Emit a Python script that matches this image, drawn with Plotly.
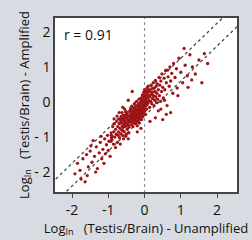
import plotly.graph_objects as go

# Scatter data
pts_lower = [(-1.92,-2.05),(-1.78,-1.95),(-1.64,-2.28),(-1.70,-1.62),(-1.55,-1.85),(-1.50,-1.40),(-1.45,-1.72),(-1.38,-1.55),
    (-1.33,-1.28),(-1.30,-1.90),(-1.25,-1.45),(-1.22,-1.15),(-1.18,-1.62),(-1.15,-1.35),(-1.10,-1.05),(-1.08,-1.48),
    (-1.05,-1.22),(-1.02,-0.95),(-1.00,-1.38),(-0.98,-1.12),(-1.85,-1.75),(-1.60,-1.50),(-1.42,-1.10),(-1.12,-1.75),
    (-1.35,-2.00),(-1.58,-2.10),(-1.20,-0.98),(-1.48,-1.25),(-0.95,-1.55),(-1.75,-2.20),
    (-0.92,-0.88),(-0.92,-0.95),(-0.91,-1.02),(-0.90,-1.08),(-0.93,-1.12),(-0.89,-0.98)]
pts_mid = [(-0.88,-0.70),(-0.86,-1.20),(-0.85,-0.85),(-0.83,-0.62),(-0.82,-1.00),(-0.80,-0.78),(-0.78,-0.92),(-0.77,-0.55),
    (-0.75,-1.15),(-0.74,-0.70),(-0.72,-0.85),(-0.71,-0.48),(-0.70,-0.62),(-0.69,-1.02),(-0.68,-0.75),(-0.66,-0.90),
    (-0.65,-0.42),(-0.64,-0.58),(-0.63,-0.80),(-0.62,-0.68),(-0.61,-0.95),(-0.60,-0.50),(-0.59,-0.72),(-0.58,-0.38),
    (-0.57,-0.62),(-0.56,-0.85),(-0.55,-0.55),(-0.54,-0.45),(-0.53,-0.70),(-0.52,-0.98),(-0.51,-0.35),(-0.50,-0.60),
    (-0.49,-0.48),(-0.48,-0.78),(-0.47,-0.30),(-0.46,-0.52),(-0.45,-0.66),(-0.44,-0.40),(-0.43,-0.88),(-0.42,-0.58),
    (-0.41,-0.25),(-0.40,-0.45),(-0.76,-0.40),(-0.67,-1.20),(-0.58,-1.05),(-0.50,-0.92),(-0.84,-0.48),(-0.62,-0.30),
    (-0.55,-0.20),(-0.45,-1.05),(-0.70,-0.30),(-0.80,-1.30),(-0.53,-0.40),(-0.60,-0.82),(-0.48,-0.65),(-0.66,-0.52),
    (-0.73,-0.95),(-0.57,-0.48),(-0.44,-0.55),(-0.52,-0.28),(-0.34,0.30),(-0.45,0.05),(-0.60,-0.15),
    (-0.63,-0.45),(-0.56,-0.66),(-0.49,-0.38),(-0.43,-0.72),(-0.41,-0.50),(-0.47,-0.42),(-0.68,-0.60),(-0.54,-0.58)]
pts_core = [(-0.39,-0.35),(-0.38,-0.55),(-0.38,-0.20),(-0.37,-0.42),(-0.36,-0.65),(-0.36,-0.30),(-0.35,-0.48),(-0.35,-0.12),
    (-0.34,-0.38),(-0.34,-0.58),(-0.33,-0.25),(-0.33,-0.45),(-0.32,-0.70),(-0.32,-0.32),(-0.31,-0.15),(-0.31,-0.50),
    (-0.30,-0.40),(-0.30,-0.22),(-0.29,-0.60),(-0.29,-0.35),(-0.28,-0.05),(-0.28,-0.45),(-0.27,-0.28),(-0.27,-0.52),
    (-0.26,-0.18),(-0.26,-0.38),(-0.25,-0.62),(-0.25,-0.30),(-0.24,-0.10),(-0.24,-0.45),(-0.23,-0.25),(-0.23,-0.55),
    (-0.22,-0.35),(-0.22,0.02),(-0.21,-0.20),(-0.21,-0.42),(-0.20,-0.30),(-0.20,-0.68),(-0.19,-0.12),(-0.19,-0.48),
    (-0.18,-0.25),(-0.18,-0.38),(-0.17,-0.05),(-0.17,-0.55),(-0.16,-0.32),(-0.16,-0.18),(-0.15,-0.42),(-0.15,0.08),
    (-0.14,-0.28),(-0.14,-0.60),(-0.13,-0.10),(-0.13,-0.35),(-0.12,-0.22),(-0.12,-0.48),(-0.11,0.00),(-0.11,-0.30),
    (-0.10,-0.15),(-0.10,-0.40),(-0.09,0.12),(-0.09,-0.25),(-0.08,-0.05),(-0.08,-0.50),(-0.07,-0.18),(-0.07,0.05),
    (-0.06,-0.32),(-0.06,0.20),(-0.05,-0.10),(-0.05,-0.42),(-0.04,0.02),(-0.04,-0.22),(-0.03,0.15),(-0.03,-0.30),
    (-0.02,-0.08),(-0.02,0.28),(-0.01,-0.18),(-0.01,0.08),(0.00,-0.02),(0.00,0.35),(0.01,-0.25),(0.01,0.18),
    (0.02,0.05),(0.02,-0.12),(0.03,0.25),(0.03,-0.35),(0.04,0.10),(0.04,-0.05),(0.05,0.32),(0.05,0.00),
    (0.06,0.18),(0.06,-0.20),(-0.20,-0.85),(-0.10,-0.75),(0.15,-0.55),
    (-0.37,-0.52),(-0.33,-0.35),(-0.29,-0.48),(-0.26,-0.45),(-0.23,-0.40),(-0.21,-0.32),(-0.18,-0.45),(-0.15,-0.25),
    (-0.13,-0.20),(-0.11,-0.38),(-0.08,-0.28),(-0.06,-0.15),(-0.04,-0.35),(-0.02,-0.20),(0.00,0.10),(0.02,-0.02)]
pts_upper = [(0.07,0.40),(0.07,-0.08),(0.08,0.12),(0.09,0.28),(0.10,-0.02),(0.10,0.45),(0.11,0.20),(0.12,0.05),
    (0.13,0.35),(0.14,-0.15),(0.15,0.15),(0.16,0.30),(0.17,0.02),(0.18,0.48),(0.19,0.22),(0.20,-0.05),(0.21,0.38),
    (0.22,0.10),(0.23,0.28),(0.24,0.55),(0.25,0.18),(0.26,-0.10),(0.27,0.40),(0.28,0.05),(0.29,0.30),(0.30,0.62),
    (0.31,0.15),(0.32,0.45),(0.33,-0.02),(0.34,0.25),(0.35,0.52),(0.36,0.08),(0.38,0.35),(0.40,0.70),(0.41,0.18),
    (0.42,0.48),(0.44,0.02),(0.45,0.60),(0.47,0.30),(0.48,0.80),(0.50,0.42),(0.52,0.12),(0.54,0.68),(0.56,0.35),
    (0.58,0.90),(0.60,0.55),(0.62,-0.10),(0.45,-0.20),(0.55,0.05),(0.38,-0.25),
    (0.72,-0.30),(0.60,-0.35),(0.50,-0.50),(0.30,-0.45)]
pts_far = [(0.63,0.91),(0.65,0.72),(0.68,0.45),(0.70,1.00),(0.72,0.60),(0.75,0.82),(0.78,0.25),(0.80,1.10),(0.84,0.70),
    (0.88,0.95),(0.90,0.40),(0.95,1.25),(1.00,0.85),(1.05,0.55),(1.09,1.53),(1.12,1.05),(1.18,0.75),(1.25,1.35),
    (1.30,0.63),(1.32,1.00),(1.40,0.80),(1.50,1.20),(1.58,0.55),(1.65,1.38),(1.74,1.10),(0.92,0.18),(1.20,0.42)]

points = pts_lower + pts_mid + pts_core + pts_upper + pts_far
x_vals = [p[0] for p in points]
y_vals = [p[1] for p in points]

# reference lines (endpoints in data units)
line_upper_x = [-2.45, 2.3]
line_upper_y = [-2.2, 2.55]
line_lower_x = [-2.15, 2.55]
line_lower_y = [-2.55, 2.15]

x_ticks = [-2, -1, 0, 1, 2]
x_tick_text = ["-2", "-1", "0", "1", "2"]
y_ticks = [-2, -1, 0, 1, 2]
y_tick_text = ["- 2", "- 1", "0", "1", "2"]

font_family = "Open Sans, Noto Sans, sans-serif"

fig = go.Figure()
fig.add_trace(go.Scatter(x=[0, 0], y=[-2.6, 2.45], mode="lines",
                         line=dict(color="#8c93a3", width=1.2, dash="dot"), hoverinfo="skip"))
fig.add_trace(go.Scatter(x=line_upper_x, y=line_upper_y, mode="lines",
                         line=dict(color="#4a4a4a", width=1.3, dash="dot"), hoverinfo="skip"))
fig.add_trace(go.Scatter(x=line_lower_x, y=line_lower_y, mode="lines",
                         line=dict(color="#4a4a4a", width=1.3, dash="dot"), hoverinfo="skip"))
fig.add_trace(go.Scatter(x=x_vals, y=y_vals, mode="markers",
                         marker=dict(color="#9e1518", size=3.3, line=dict(width=0))))

fig.add_annotation(x=0.04, y=0.97, xref="paper", yref="paper", text="r = 0.91", showarrow=False,
                   xanchor="left", yanchor="top", font=dict(size=14, color="#111111", family=font_family))

fig.update_layout(
    width=252, height=240, showlegend=False,
    paper_bgcolor="#d8dce2", plot_bgcolor="#ffffff",
    margin=dict(l=55, r=15, t=18, b=48),
    font=dict(family=font_family, color="#111111"),
    xaxis=dict(range=[-2.47, 2.55], tickvals=x_ticks, ticktext=x_tick_text, showgrid=False, zeroline=False,
               showline=True, linecolor="#444444", linewidth=1.5, mirror=True, ticks="outside", ticklen=4,
               tickcolor="#444444", tickfont=dict(size=14),
               title=dict(text="Log<sub>In</sub>   (Testis/Brain) - Unamplified", font=dict(size=13), standoff=0)),
    yaxis=dict(range=[-2.57, 2.4], tickvals=y_ticks, ticktext=y_tick_text, showgrid=False, zeroline=False,
               showline=True, linecolor="#444444", linewidth=1.5, mirror=True, ticks="", ticklen=0,
               tickfont=dict(size=14),
               title=dict(text="Log<sub>In</sub>   (Testis/Brain) - Amplified", font=dict(size=13), standoff=2)),
)

fig.write_html("out.html")
